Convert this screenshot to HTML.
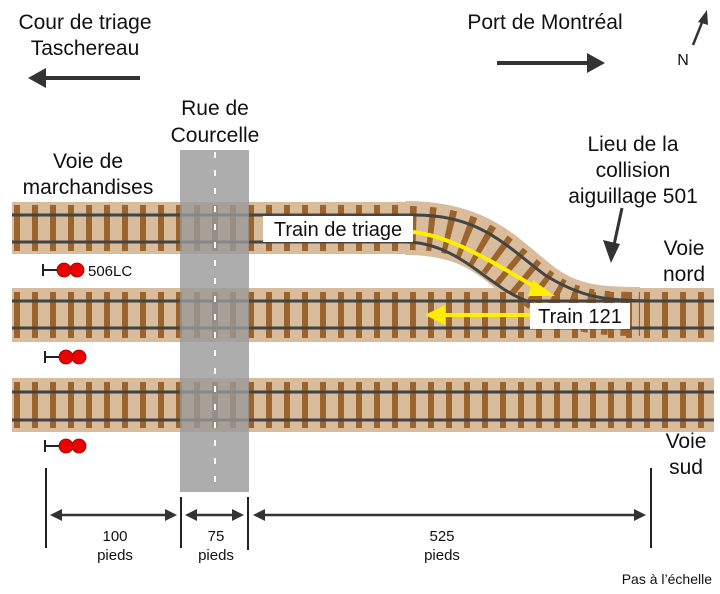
<!DOCTYPE html>
<html><head><meta charset="utf-8"><style>
html,body{margin:0;padding:0;background:#fff}
svg{display:block}
text{font-family:"Liberation Sans",Arial,sans-serif;fill:#111}
</style></head><body>
<svg width="720" height="594" viewBox="0 0 720 594" xmlns="http://www.w3.org/2000/svg">
<!-- headers -->
<text x="85" y="29" font-size="21" text-anchor="middle">Cour de triage</text>
<text x="85" y="55" font-size="21" text-anchor="middle">Taschereau</text>
<line x1="140" y1="78" x2="40" y2="78" stroke="#333" stroke-width="4"/>
<path d="M28,78 L46,68 L46,88 z" fill="#333"/>
<text x="545" y="29" font-size="21" text-anchor="middle">Port de Montréal</text>
<line x1="497" y1="63" x2="592" y2="63" stroke="#333" stroke-width="4"/>
<path d="M605,63 L587,53 L587,73 z" fill="#333"/>
<line x1="693" y1="45" x2="703" y2="20" stroke="#333" stroke-width="2.5"/>
<path d="M707,10 L698,22 L708,25 z" fill="#333"/>
<text x="683" y="65" font-size="16" text-anchor="middle">N</text>
<text x="215" y="115" font-size="21" text-anchor="middle">Rue de</text>
<text x="215" y="142" font-size="21" text-anchor="middle">Courcelle</text>
<text x="88" y="168" font-size="21" text-anchor="middle">Voie de</text>
<text x="88" y="194" font-size="21" text-anchor="middle">marchandises</text>
<text x="633" y="151" font-size="21" text-anchor="middle">Lieu de la</text>
<text x="633" y="177" font-size="21" text-anchor="middle">collision</text>
<text x="633" y="203" font-size="21" text-anchor="middle">aiguillage 501</text>
<text x="684" y="255" font-size="21" text-anchor="middle">Voie</text>
<text x="684" y="281" font-size="21" text-anchor="middle">nord</text>
<text x="686" y="448" font-size="21" text-anchor="middle">Voie</text>
<text x="686" y="474" font-size="21" text-anchor="middle">sud</text>

<!-- ballast -->
<g fill="#d9bc9c">
<rect x="12" y="202" width="400" height="52"/>
<rect x="12" y="288" width="702" height="54"/>
<rect x="12" y="378" width="702" height="54"/>
</g>
<path d="M405,228 C480,228 500,260 540,290 C570,312 600,314 640,314" stroke="#d9bc9c" stroke-width="54" fill="none"/>
<!-- ties -->
<g stroke="#9b642d" fill="none">
<path d="M14,228 H410" stroke-width="46" stroke-dasharray="6 12"/>
<path d="M14,315 H712" stroke-width="46" stroke-dasharray="6 12"/>
<path d="M14,405 H712" stroke-width="46" stroke-dasharray="6 12"/>
<path d="M410,228 C480,228 500,260 540,290 C570,312 600,314 640,314" stroke-width="44" stroke-dasharray="6 12"/>
</g>
<!-- rails -->
<g stroke="#444" stroke-width="3" fill="none">
<path d="M12,215 H415 C480,215 505,245 545,275 C585,300 610,300 650,301"/>
<path d="M12,242 H405 C460,242 490,290 530,302"/>
<path d="M12,301 H714"/>
<path d="M12,328 H714"/>
<path d="M12,392 H714"/>
<path d="M12,420 H714"/>
</g>
<!-- road -->
<rect x="180" y="150" width="69" height="342" fill="#999" fill-opacity="0.8"/>
<line x1="215" y1="152" x2="215" y2="492" stroke="#fff" stroke-width="2" stroke-dasharray="6 12"/>

<!-- labels on tracks -->
<rect x="263" y="216" width="150" height="26" fill="#fff"/>
<text x="338" y="236" font-size="20" text-anchor="middle">Train de triage</text>
<path d="M413,232 C450,236 490,260 540,290" stroke="#ffee00" stroke-width="4" fill="none"/>
<path d="M555,296 L533,280 L528,296 z" fill="#ffee00"/>
<line x1="535" y1="315" x2="440" y2="315" stroke="#ffee00" stroke-width="4"/>
<path d="M425,315 L445,305 L445,325 z" fill="#ffee00"/>
<rect x="530" y="303" width="100" height="26" fill="#fff"/>
<text x="580" y="323" font-size="20" text-anchor="middle">Train 121</text>
<!-- collision arrow -->
<line x1="622" y1="208" x2="614" y2="245" stroke="#333" stroke-width="3"/>
<path d="M611,263 L603,240 L620,244 z" fill="#333"/>

<!-- signals -->
<g>
<line x1="43" y1="264" x2="43" y2="276" stroke="#222" stroke-width="2"/>
<line x1="43" y1="270" x2="58" y2="270" stroke="#222" stroke-width="2"/>
<circle cx="64" cy="270" r="7" fill="#e00" stroke="#900" stroke-width="0.8"/>
<circle cx="77" cy="270" r="7" fill="#e00" stroke="#900" stroke-width="0.8"/>
<text x="88" y="276" font-size="15">506LC</text>
<line x1="45" y1="351" x2="45" y2="363" stroke="#222" stroke-width="2"/>
<line x1="45" y1="357" x2="60" y2="357" stroke="#222" stroke-width="2"/>
<circle cx="66" cy="357" r="7" fill="#e00" stroke="#900" stroke-width="0.8"/>
<circle cx="79" cy="357" r="7" fill="#e00" stroke="#900" stroke-width="0.8"/>
<line x1="45" y1="440" x2="45" y2="452" stroke="#222" stroke-width="2"/>
<line x1="45" y1="446" x2="60" y2="446" stroke="#222" stroke-width="2"/>
<circle cx="66" cy="446" r="7" fill="#e00" stroke="#900" stroke-width="0.8"/>
<circle cx="79" cy="446" r="7" fill="#e00" stroke="#900" stroke-width="0.8"/>
</g>

<!-- dimensions -->
<g stroke="#222" stroke-width="2">
<line x1="46" y1="468" x2="46" y2="548"/>
<line x1="181" y1="497" x2="181" y2="548"/>
<line x1="248" y1="497" x2="248" y2="550"/>
<line x1="651" y1="468" x2="651" y2="548"/>
</g>
<g stroke="#333" stroke-width="2.5">
<line x1="58" y1="515" x2="170" y2="515"/>
<line x1="191" y1="515" x2="238" y2="515"/>
<line x1="260" y1="515" x2="640" y2="515"/>
</g>
<g fill="#333">
<path d="M50,515 L62,509 L62,521 z"/><path d="M177,515 L165,509 L165,521 z"/>
<path d="M185,515 L197,509 L197,521 z"/><path d="M244,515 L232,509 L232,521 z"/>
<path d="M253,515 L265,509 L265,521 z"/><path d="M646,515 L634,509 L634,521 z"/>
</g>
<g font-size="15" text-anchor="middle">
<text x="115" y="541">100</text><text x="115" y="560">pieds</text>
<text x="216" y="541">75</text><text x="216" y="560">pieds</text>
<text x="442" y="541">525</text><text x="442" y="560">pieds</text>
</g>
<text x="712" y="584" font-size="14" text-anchor="end">Pas à l’échelle</text>
</svg>
</body></html>
